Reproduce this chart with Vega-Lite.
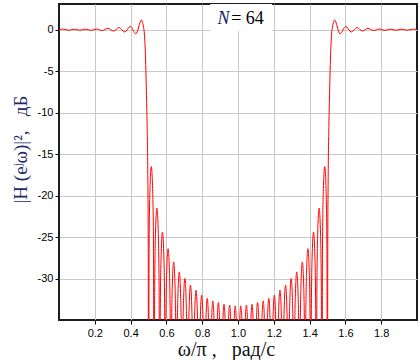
{
  "$schema": "https://vega.github.io/schema/vega-lite/v6.json",
  "width": 358,
  "height": 316,
  "autosize": {"type": "none"},
  "padding": {"left": 59, "top": 4, "right": 3, "bottom": 40},
  "background": "white",
  "config": {
    "view": {"stroke": "#1e1e1e", "strokeWidth": 2},
    "axis": {
      "labelFont": "Liberation Sans",
      "labelFontSize": 11,
      "labelColor": "#000000",
      "tickColor": "#000000",
      "tickSize": 4,
      "domain": false,
      "gridColor": "#c8c8c8",
      "gridWidth": 1,
      "titleFont": "Liberation Serif",
      "titleFontWeight": "normal"
    }
  },
  "layer": [
    {
      "data": {
        "values": [
          {"w":0,"db":0.02},{"w":0.0234,"db":0.07},{"w":0.0547,"db":-0.06},{"w":0.0859,"db":0.06},{"w":0.1172,"db":-0.06},{"w":0.1484,"db":0.07},{"w":0.1797,"db":-0.08},{"w":0.2109,"db":0.09},{"w":0.2422,"db":-0.1},{"w":0.2734,"db":0.17},{"w":0.3047,"db":-0.16},{"w":0.3359,"db":0.26},{"w":0.3672,"db":-0.28},{"w":0.3984,"db":0.4},{"w":0.4297,"db":-0.5},{"w":0.4609,"db":1.18},{"w":0.4668,"db":0.85},{"w":0.4727,"db":0.25},{"w":0.4766,"db":-0.4},{"w":0.4805,"db":-1.8},{"w":0.4844,"db":-4.2},{"w":0.4883,"db":-7.5},{"w":0.4922,"db":-11.5},{"w":0.4961,"db":-17.5},{"w":0.4985,"db":-26},{"w":0.5,"db":-60},
          {"w":0.5031,"db":-26.7},{"w":0.5078,"db":-19.5},{"w":0.5156,"db":-16.5},{"w":0.5234,"db":-19.5},{"w":0.5281,"db":-26.7},{"w":0.5313,"db":-60},
          {"w":0.5344,"db":-31.7},{"w":0.5391,"db":-24.5},{"w":0.5469,"db":-21.5},{"w":0.5547,"db":-24.5},{"w":0.5594,"db":-31.7},{"w":0.5625,"db":-60},
          {"w":0.5656,"db":-34.6},{"w":0.5703,"db":-27.4},{"w":0.5781,"db":-24.4},{"w":0.5859,"db":-27.4},{"w":0.5906,"db":-34.6},{"w":0.5938,"db":-60},
          {"w":0.5969,"db":-36.6},{"w":0.6016,"db":-29.4},{"w":0.6094,"db":-26.4},{"w":0.6172,"db":-29.4},{"w":0.6219,"db":-36.6},{"w":0.625,"db":-60},
          {"w":0.6281,"db":-38.2},{"w":0.6328,"db":-31},{"w":0.6406,"db":-28},{"w":0.6484,"db":-31},{"w":0.6531,"db":-38.2},{"w":0.6563,"db":-60},
          {"w":0.6594,"db":-39.4},{"w":0.6641,"db":-32.2},{"w":0.6719,"db":-29.2},{"w":0.6797,"db":-32.2},{"w":0.6844,"db":-39.4},{"w":0.6875,"db":-60},
          {"w":0.6906,"db":-40.2},{"w":0.6953,"db":-33},{"w":0.7031,"db":-30},{"w":0.7109,"db":-33},{"w":0.7156,"db":-40.2},{"w":0.7188,"db":-60},
          {"w":0.7219,"db":-41},{"w":0.7266,"db":-33.8},{"w":0.7344,"db":-30.8},{"w":0.7422,"db":-33.8},{"w":0.7469,"db":-41},{"w":0.75,"db":-60},
          {"w":0.7531,"db":-41.6},{"w":0.7578,"db":-34.4},{"w":0.7656,"db":-31.4},{"w":0.7734,"db":-34.4},{"w":0.7781,"db":-41.6},{"w":0.7813,"db":-60},
          {"w":0.7844,"db":-42.2},{"w":0.7891,"db":-35},{"w":0.7969,"db":-32},{"w":0.8047,"db":-35},{"w":0.8094,"db":-42.2},{"w":0.8125,"db":-60},
          {"w":0.8156,"db":-42.6},{"w":0.8203,"db":-35.4},{"w":0.8281,"db":-32.4},{"w":0.8359,"db":-35.4},{"w":0.8406,"db":-42.6},{"w":0.8438,"db":-60},
          {"w":0.8469,"db":-42.9},{"w":0.8516,"db":-35.7},{"w":0.8594,"db":-32.7},{"w":0.8672,"db":-35.7},{"w":0.8719,"db":-42.9},{"w":0.875,"db":-60},
          {"w":0.8781,"db":-43.1},{"w":0.8828,"db":-35.9},{"w":0.8906,"db":-32.9},{"w":0.8984,"db":-35.9},{"w":0.9031,"db":-43.1},{"w":0.9063,"db":-60},
          {"w":0.9094,"db":-43.3},{"w":0.9141,"db":-36.1},{"w":0.9219,"db":-33.1},{"w":0.9297,"db":-36.1},{"w":0.9344,"db":-43.3},{"w":0.9375,"db":-60},
          {"w":0.9406,"db":-43.4},{"w":0.9453,"db":-36.2},{"w":0.9531,"db":-33.2},{"w":0.9609,"db":-36.2},{"w":0.9656,"db":-43.4},{"w":0.9688,"db":-60},
          {"w":0.9719,"db":-43.5},{"w":0.9766,"db":-36.3},{"w":0.9844,"db":-33.3},{"w":0.9922,"db":-36.3},{"w":0.9969,"db":-43.5},{"w":1.0,"db":-60},
          {"w":1.0031,"db":-43.5},{"w":1.0078,"db":-36.3},{"w":1.0156,"db":-33.3},{"w":1.0234,"db":-36.3},{"w":1.0281,"db":-43.5},{"w":1.0313,"db":-60},
          {"w":1.0344,"db":-43.4},{"w":1.0391,"db":-36.2},{"w":1.0469,"db":-33.2},{"w":1.0547,"db":-36.2},{"w":1.0594,"db":-43.4},{"w":1.0625,"db":-60},
          {"w":1.0656,"db":-43.3},{"w":1.0703,"db":-36.1},{"w":1.0781,"db":-33.1},{"w":1.0859,"db":-36.1},{"w":1.0906,"db":-43.3},{"w":1.0938,"db":-60},
          {"w":1.0969,"db":-43.1},{"w":1.1016,"db":-35.9},{"w":1.1094,"db":-32.9},{"w":1.1172,"db":-35.9},{"w":1.1219,"db":-43.1},{"w":1.125,"db":-60},
          {"w":1.1281,"db":-42.9},{"w":1.1328,"db":-35.7},{"w":1.1406,"db":-32.7},{"w":1.1484,"db":-35.7},{"w":1.1531,"db":-42.9},{"w":1.1563,"db":-60},
          {"w":1.1594,"db":-42.6},{"w":1.1641,"db":-35.4},{"w":1.1719,"db":-32.4},{"w":1.1797,"db":-35.4},{"w":1.1844,"db":-42.6},{"w":1.1875,"db":-60},
          {"w":1.1906,"db":-42.2},{"w":1.1953,"db":-35},{"w":1.2031,"db":-32},{"w":1.2109,"db":-35},{"w":1.2156,"db":-42.2},{"w":1.2188,"db":-60},
          {"w":1.2219,"db":-41.6},{"w":1.2266,"db":-34.4},{"w":1.2344,"db":-31.4},{"w":1.2422,"db":-34.4},{"w":1.2469,"db":-41.6},{"w":1.25,"db":-60},
          {"w":1.2531,"db":-41},{"w":1.2578,"db":-33.8},{"w":1.2656,"db":-30.8},{"w":1.2734,"db":-33.8},{"w":1.2781,"db":-41},{"w":1.2813,"db":-60},
          {"w":1.2844,"db":-40.2},{"w":1.2891,"db":-33},{"w":1.2969,"db":-30},{"w":1.3047,"db":-33},{"w":1.3094,"db":-40.2},{"w":1.3125,"db":-60},
          {"w":1.3156,"db":-39.4},{"w":1.3203,"db":-32.2},{"w":1.3281,"db":-29.2},{"w":1.3359,"db":-32.2},{"w":1.3406,"db":-39.4},{"w":1.3438,"db":-60},
          {"w":1.3469,"db":-38.2},{"w":1.3516,"db":-31},{"w":1.3594,"db":-28},{"w":1.3672,"db":-31},{"w":1.3719,"db":-38.2},{"w":1.375,"db":-60},
          {"w":1.3781,"db":-36.6},{"w":1.3828,"db":-29.4},{"w":1.3906,"db":-26.4},{"w":1.3984,"db":-29.4},{"w":1.4031,"db":-36.6},{"w":1.4063,"db":-60},
          {"w":1.4094,"db":-34.6},{"w":1.4141,"db":-27.4},{"w":1.4219,"db":-24.4},{"w":1.4297,"db":-27.4},{"w":1.4344,"db":-34.6},{"w":1.4375,"db":-60},
          {"w":1.4406,"db":-31.7},{"w":1.4453,"db":-24.5},{"w":1.4531,"db":-21.5},{"w":1.4609,"db":-24.5},{"w":1.4656,"db":-31.7},{"w":1.4688,"db":-60},
          {"w":1.4719,"db":-26.7},{"w":1.4766,"db":-19.5},{"w":1.4844,"db":-16.5},{"w":1.4922,"db":-19.5},{"w":1.4969,"db":-26.7},{"w":1.5,"db":-60},
          {"w":1.5015,"db":-26},{"w":1.5039,"db":-17.5},{"w":1.5078,"db":-11.5},{"w":1.5117,"db":-7.5},{"w":1.5156,"db":-4.2},{"w":1.5195,"db":-1.8},{"w":1.5234,"db":-0.4},{"w":1.5273,"db":0.25},{"w":1.5332,"db":0.85},{"w":1.5391,"db":1.18},{"w":1.5703,"db":-0.5},{"w":1.6016,"db":0.4},{"w":1.6328,"db":-0.28},{"w":1.6641,"db":0.26},{"w":1.6953,"db":-0.16},{"w":1.7266,"db":0.17},{"w":1.7578,"db":-0.1},{"w":1.7891,"db":0.09},{"w":1.8203,"db":-0.08},{"w":1.8516,"db":0.07},{"w":1.8828,"db":-0.06},{"w":1.9141,"db":0.06},{"w":1.9453,"db":-0.06},{"w":1.9766,"db":0.07},{"w":2.0,"db":0.02}
        ]
      },
      "mark": {"type": "line", "color": "#ff0000", "strokeWidth": 1, "clip": true, "interpolate": "monotone"},
      "encoding": {
        "x": {
          "field": "w", "type": "quantitative",
          "scale": {"domain": [0, 2], "nice": false, "zero": false},
          "axis": {
            "values": [0.2, 0.4, 0.6, 0.8, 1.0, 1.2, 1.4, 1.6, 1.8],
            "format": ".1f",
            "labelPadding": 3,
            "title": "ω/π ,\u00a0\u00a0 рад/с",
            "titleFontSize": 20,
            "titleColor": "#111111",
            "titlePadding": 1,
            "titleX": 167
          }
        },
        "y": {
          "field": "db", "type": "quantitative",
          "scale": {"domain": [-35, 3.1], "nice": false, "zero": false},
          "axis": {
            "values": [0, -5, -10, -15, -20, -25, -30],
            "labelExpr": "'' + datum.value",
            "labelPadding": 2,
            "title": "|H (eʲω)|²,\u00a0\u00a0 дБ",
            "titleFontSize": 19,
            "titleColor": "#1f2a6e",
            "titlePadding": 7,
            "titleY": 145
          }
        }
      }
    },
    {
      "data": {"values": [{"box": "label"}]},
      "mark": {"type": "rect", "fill": "white"},
      "encoding": {
        "x": {"datum": 0.845, "type": "quantitative"},
        "x2": {"datum": 1.19},
        "y": {"datum": -0.2, "type": "quantitative"},
        "y2": {"datum": 3.1}
      }
    },
    {
      "data": {"values": [{"label": "N"}]},
      "mark": {"type": "text", "font": "Liberation Serif", "fontSize": 18, "fontStyle": "italic", "align": "right", "baseline": "alphabetic", "color": "#13235e"},
      "encoding": {
        "x": {"datum": 0.952, "type": "quantitative"},
        "y": {"datum": 0.63, "type": "quantitative"},
        "text": {"field": "label"}
      }
    },
    {
      "data": {"values": [{"label": "= 64"}]},
      "mark": {"type": "text", "font": "Liberation Serif", "fontSize": 18, "align": "left", "baseline": "alphabetic", "color": "#000000"},
      "encoding": {
        "x": {"datum": 0.962, "type": "quantitative"},
        "y": {"datum": 0.63, "type": "quantitative"},
        "text": {"field": "label"}
      }
    }
  ]
}
